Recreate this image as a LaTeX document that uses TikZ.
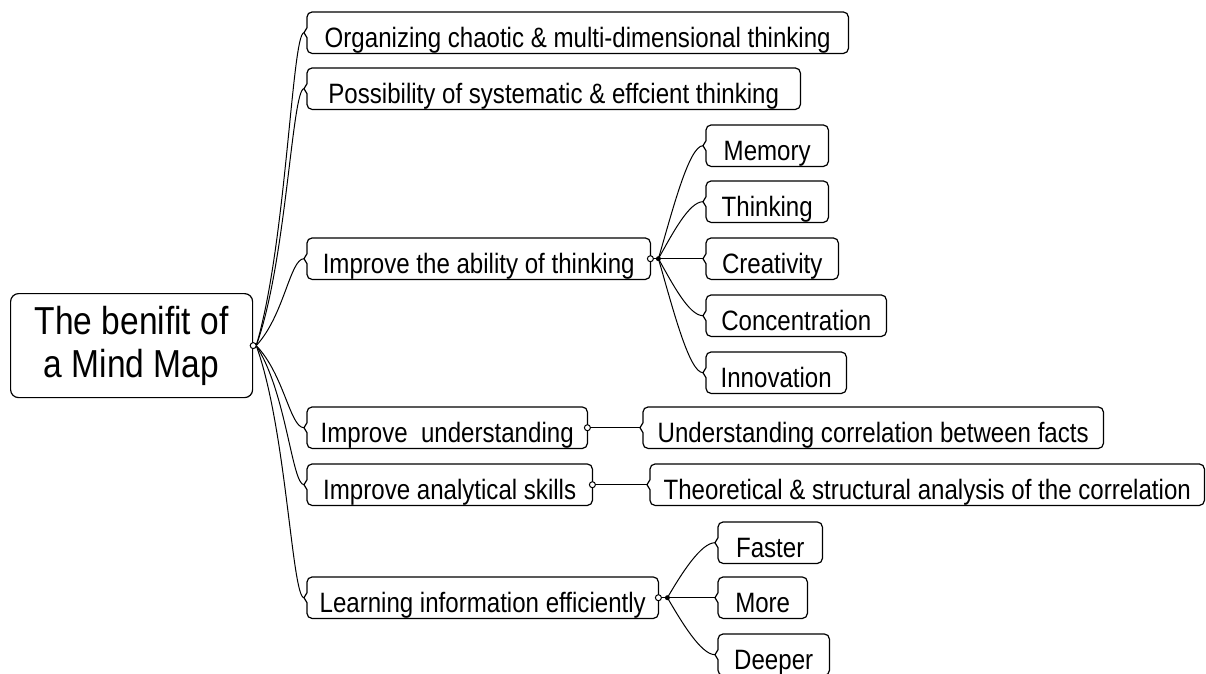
\documentclass[tikz,border=0pt]{standalone}
\usepackage{fontspec}
\usetikzlibrary{calc}
\newfontfamily\mmfont[FakeStretch=0.86]{Liberation Sans}
\newcommand\mmoutline[1]{%
  \draw[boxline] ($(#1.north west)+(5pt,0pt)$) -- ($(#1.north east)+(-5pt,0pt)$)
    arc[start angle=90,end angle=0,radius=5pt] -- ($(#1.south east)+(0pt,5pt)$)
    arc[start angle=0,end angle=-90,radius=5pt] -- ($(#1.south west)+(5pt,0pt)$)
    arc[start angle=-90,end angle=-180,radius=5pt] -- ($(#1.west)+(0pt,-5pt)$)
    -- ($(#1.west)+(-3pt,0pt)$) -- ($(#1.west)+(0pt,5pt)$)
    -- ($(#1.north west)+(0pt,-5pt)$) arc[start angle=180,end angle=90,radius=5pt] -- cycle;}
\tikzset{
  boxline/.style={line width=1.2pt, black},
  conn/.style={line width=1pt, black},
  mmbox/.style={anchor=north west, inner xsep=0pt, inner ysep=0pt,
    text height=35pt, text depth=6pt,
    font=\mmfont\fontsize{28}{30}\selectfont},
  knob/.style={line width=1pt, fill=white},
  dot/.style={fill=black}
}
\begin{document}
\begin{tikzpicture}[x=1pt,y=-1pt]
\useasboundingbox (0,0) rectangle (1206,673);
% root
\node[draw, line width=1.2pt, rounded corners=8pt, anchor=north west, minimum width=242pt,
  minimum height=104pt, inner sep=0pt, align=center,
  font=\mmfont\fontsize{39}{43}\selectfont] (root) at (10,293) {The benifit of\\a Mind Map};
% level 1
\node[mmbox, minimum width=541pt] (org) at (307,12) {Organizing chaotic \& multi-dimensional thinking};
\node[mmbox, minimum width=493pt] (pos) at (307,68) {Possibility of systematic \& effcient thinking};
\node[mmbox, minimum width=343pt] (abl) at (307,238) {Improve the ability of thinking};
\node[mmbox, minimum width=280pt] (und) at (307,407) {Improve~\ understanding};
\node[mmbox, minimum width=285pt] (ana) at (307,464) {Improve analytical skills};
\node[mmbox, minimum width=351pt] (lrn) at (307,577) {Learning information efficiently};
% level 2
\node[mmbox, minimum width=122pt] (mem) at (706,125) {Memory};
\node[mmbox, minimum width=122pt] (thi) at (706,181) {Thinking};
\node[mmbox, minimum width=132pt] (cre) at (706,238) {Creativity};
\node[mmbox, minimum width=180pt] (con) at (706,295) {Concentration};
\node[mmbox, minimum width=140pt] (inn) at (706,352) {Innovation};
\node[mmbox, minimum width=460pt] (ucf) at (643,407) {Understanding correlation between facts};
\node[mmbox, minimum width=554pt] (tsa) at (650,464) {Theoretical \& structural analysis of the correlation};
\node[mmbox, minimum width=104pt] (fas) at (718,522) {Faster};
\node[mmbox, minimum width=89pt] (mor) at (718,577) {More};
\node[mmbox, minimum width=111pt] (dee) at (718,634) {Deeper};
\foreach \n in {org,pos,abl,und,ana,lrn,mem,thi,cre,con,inn,ucf,tsa,fas,mor,dee}{\mmoutline{\n}}
% root connectors
\coordinate (rp) at ($(root.east)+(3pt,0pt)$);
\draw[conn] (rp) .. controls +(30,-100) and +(-12,0) .. ([xshift=-3pt]org.west);
\draw[conn] (rp) .. controls +(30,-82) and +(-12,0) .. ([xshift=-3pt]pos.west);
\draw[conn] (rp) .. controls +(28,-30) and +(-14,0) .. ([xshift=-3pt]abl.west);
\draw[conn] (rp) .. controls +(28,29) and +(-14,0) .. ([xshift=-3pt]und.west);
\draw[conn] (rp) .. controls +(30,46) and +(-12,0) .. ([xshift=-3pt]ana.west);
\draw[conn] (rp) .. controls +(30,82) and +(-12,0) .. ([xshift=-3pt]lrn.west);
\draw[knob] (root.east) circle[radius=3pt];
% ability children
\coordinate (ad) at ($(abl.east)+(8pt,0pt)$);
\draw[conn] (ad) .. controls +(14,-48) and +(-14,0) .. ([xshift=-3pt]mem.west);
\draw[conn] (ad) .. controls +(14,-25) and +(-14,0) .. ([xshift=-3pt]thi.west);
\draw[conn] (ad) -- ([xshift=-3pt]cre.west);
\draw[conn] (ad) .. controls +(14,25) and +(-14,0) .. ([xshift=-3pt]con.west);
\draw[conn] (ad) .. controls +(14,48) and +(-14,0) .. ([xshift=-3pt]inn.west);
\draw[conn] (abl.east) -- (ad);
\draw[knob] (abl.east) circle[radius=3pt];
\fill[dot] (ad) circle[radius=2.5pt];
% understanding / analytical
\draw[conn] ($(und.east)+(3pt,0pt)$) -- ([xshift=-3pt]ucf.west);
\draw[knob] (und.east) circle[radius=3pt];
\draw[conn] ($(ana.east)+(3pt,0pt)$) -- ([xshift=-3pt]tsa.west);
\draw[knob] (ana.east) circle[radius=3pt];
% learning children
\coordinate (ld) at ($(lrn.east)+(9pt,0pt)$);
\draw[conn] (ld) .. controls +(14,-24) and +(-14,0) .. ([xshift=-3pt]fas.west);
\draw[conn] (ld) -- ([xshift=-3pt]mor.west);
\draw[conn] (ld) .. controls +(14,24) and +(-14,0) .. ([xshift=-3pt]dee.west);
\draw[conn] (lrn.east) -- (ld);
\draw[knob] (lrn.east) circle[radius=3pt];
\fill[dot] (ld) circle[radius=2.5pt];
\end{tikzpicture}
\end{document}
